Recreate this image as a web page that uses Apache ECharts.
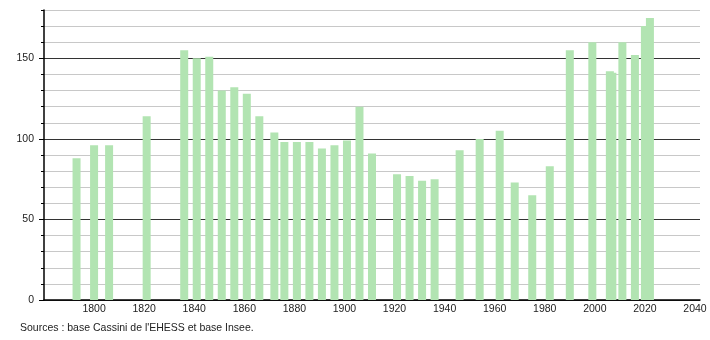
<!DOCTYPE html>
<html>
<head>
<meta charset="utf-8">
<script src="https://cdn.jsdelivr.net/npm/echarts@6/dist/echarts.min.js"></script>
<style>
html,body{margin:0;padding:0;background:#fff;}
#chart{width:710px;height:340px;}
</style>
</head>
<body>
<div id="chart"></div>
<script>
var years = [1793, 1800, 1806, 1821, 1836, 1841, 1846, 1851, 1856, 1861, 1866, 1872, 1876, 1881, 1886, 1891, 1896, 1901, 1906, 1911, 1921, 1926, 1931, 1936, 1946, 1954, 1962, 1968, 1975, 1982, 1990, 1999, 2006, 2007, 2011, 2016, 2020, 2022];
var population = [88, 96, 96, 114, 155, 150, 151, 130, 132, 128, 114, 104, 98, 98, 98, 94, 96, 99, 120, 91, 78, 77, 74, 75, 93, 100, 105, 73, 65, 83, 155, 160, 142, 141, 160, 152, 170, 175];
var sourceText = "Sources : base Cassini de l'EHESS et base Insee.";

var chart = echarts.init(document.getElementById('chart'), null, {renderer: 'canvas'});
var font = '"Liberation Sans", Arial, sans-serif';
var barData = years.map(function (y, i) { return [y, population[i]]; });

chart.setOption({
  animation: false,
  backgroundColor: '#fff',
  textStyle: {fontFamily: font},
  grid: [
    {left: 44, right: 10, top: 10, bottom: 40},
    {left: 44, right: 10, top: 10 + 30 * 290 / 180, bottom: 40}
  ],
  xAxis: [
    {
      gridIndex: 0, type: 'value', min: 1780, max: 2042, interval: 20,
      axisLine: {show: true, onZero: false, lineStyle: {color: '#000', width: 1.5}},
      axisTick: {show: false},
      splitLine: {show: false},
      axisLabel: {
        showMinLabel: false, showMaxLabel: false, color: '#222', fontSize: 10.5, fontFamily: font, margin: 4,
        formatter: function (v) { return String(v); }
      }
    },
    {
      gridIndex: 1, type: 'value', min: 1780, max: 2042, show: false
    }
  ],
  yAxis: [
    {
      gridIndex: 0, type: 'value', min: 0, max: 180, interval: 10,
      axisLine: {show: true, lineStyle: {color: '#000', width: 1.5}},
      axisTick: {show: true, length: 3, lineStyle: {color: '#000'}},
      axisLabel: {
        color: '#222', fontSize: 10.5, fontFamily: font, margin: 10,
        formatter: function (v) { return v % 50 === 0 ? String(v) : ''; }
      },
      splitLine: {show: true, lineStyle: {color: ['#333', '#c8c8c8', '#c8c8c8', '#c8c8c8', '#c8c8c8'], width: 1}}
    },
    {
      gridIndex: 1, type: 'value', min: 0, max: 150, interval: 50,
      axisLine: {show: false},
      axisTick: {show: true, length: 5, lineStyle: {color: '#000'}},
      axisLabel: {show: false},
      splitLine: {show: false}
    }
  ],
  series: [
    {
      type: 'bar', xAxisIndex: 0, yAxisIndex: 0,
      data: barData, barWidth: 8,
      itemStyle: {color: '#b2e4b2'}
    }
  ],
  graphic: [
    {
      type: 'text', left: 20, top: 323,
      style: {text: sourceText, fill: '#222', font: '10.5px ' + font}
    }
  ]
});
</script>
</body>
</html>
